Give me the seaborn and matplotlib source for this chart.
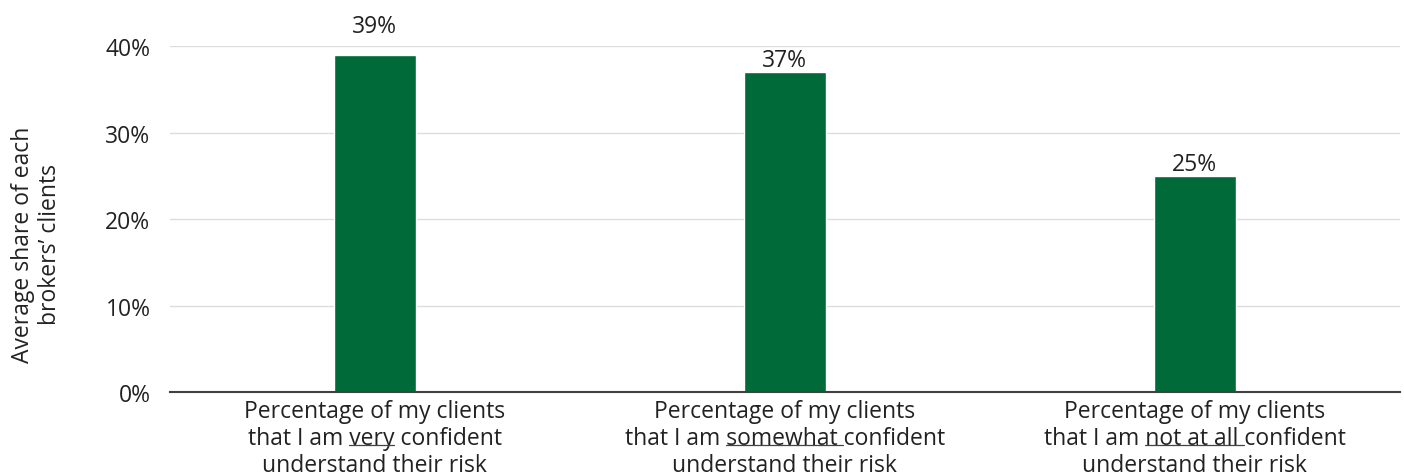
import matplotlib
matplotlib.use('Agg')
import matplotlib.pyplot as plt
from matplotlib.lines import Line2D
import seaborn as sns
import pandas as pd

# data
line_before = 'that I am '
underlined = ['very', 'somewhat ', 'not at all ']
categories = ['Percentage of my clients\n' + line_before + u + ('' if u.endswith(' ') else ' ')
              + 'confident\nunderstand their risk' for u in underlined]
shares = [39, 37, 25]
yticks = [0, 10, 20, 30, 40]

df = pd.DataFrame({'category': categories, 'share': shares})

sns.set_style('white')
plt.rcParams['font.family'] = ['Open Sans', 'DejaVu Sans']
FS = 16.5
TXT = '#222222'

fig = plt.figure(figsize=(14.04, 4.77), dpi=100)
ax = fig.add_axes([0.121, 0.176, 0.876, 0.725])

sns.barplot(data=df, x='category', y='share', color='#006B38', width=0.2,
            saturation=1, ax=ax)

# value labels
for i, v in enumerate(shares):
    pad = 16.5 if v >= 39 else 4.5
    ax.annotate(f'{v}%', (i, v), xytext=(0, pad), textcoords='offset points',
                ha='center', va='baseline', fontsize=FS, color=TXT)

ax.set_ylim(0, 40)
ax.set_xlim(-0.5, 2.5)
ax.set_yticks(yticks)
ax.set_yticklabels([f'{t}%' for t in yticks])
ax.yaxis.grid(True, color='#dddddd', linewidth=1)
ax.set_axisbelow(True)
for s in ['top', 'right', 'left']:
    ax.spines[s].set_visible(False)
ax.spines['bottom'].set_color('#404040')
ax.spines['bottom'].set_linewidth(1.5)
ax.tick_params(axis='both', length=0, labelsize=FS, colors=TXT)
ax.tick_params(axis='y', pad=14)
ax.tick_params(axis='x', pad=5)
for lab in ax.get_xticklabels():
    lab.set_linespacing(1.17)
ax.set_xlabel('')
ax.set_ylabel('Average share of each\nbrokers\u2019 clients', fontsize=FS,
              color=TXT, linespacing=1.17)
ax.yaxis.set_label_coords(-0.088, 0.43)

# underline words in the tick labels (mathtext has no \underline)
fig.canvas.draw()
renderer = fig.canvas.get_renderer()
inv = fig.transFigure.inverted()
for lab, u in zip(ax.get_xticklabels(), underlined):
    prop = lab.get_fontproperties()
    bb = lab.get_window_extent(renderer)
    cx = (bb.x0 + bb.x1) / 2
    full = lab.get_text().split('\n')[1]
    w_full = renderer.get_text_width_height_descent(full, prop, ismath=False)[0]
    w_pre = renderer.get_text_width_height_descent(line_before, prop, ismath=False)[0]
    w_u = renderer.get_text_width_height_descent(line_before + u, prop, ismath=False)[0]
    lp_h, _, lp_d = renderer.get_text_width_height_descent('lp', prop, ismath=False)
    # middle line baseline halfway between first and last baselines
    base2 = (bb.y1 - (lp_h - lp_d) + bb.y0 + lp_d) / 2
    y = base2 - 3
    x0 = cx - w_full / 2 + w_pre
    x1 = cx - w_full / 2 + w_u
    p0 = inv.transform((x0, y))
    p1 = inv.transform((x1, y))
    fig.add_artist(Line2D([p0[0], p1[0]], [p0[1], p1[1]], color='#444444',
                          linewidth=0.9, transform=fig.transFigure))

fig.savefig('out.png', dpi=100)
